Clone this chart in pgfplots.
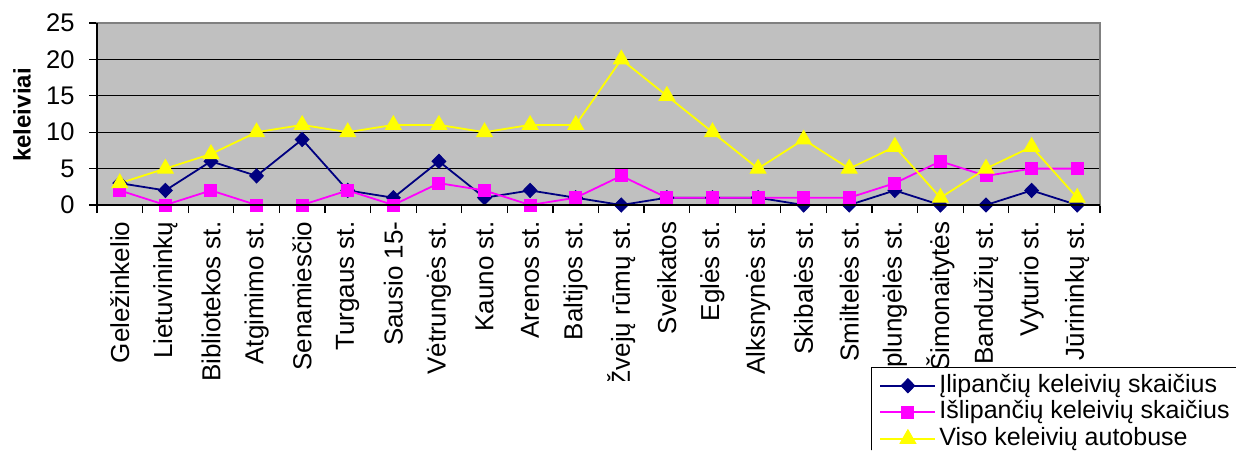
\documentclass[border=0pt]{standalone}
\usepackage{pgfplots}
\pgfplotsset{compat=1.18}
\usepackage{fontspec}
\setmainfont{Liberation Sans}
\definecolor{navyc}{RGB}{0,0,128}
\definecolor{magc}{RGB}{255,0,255}
\definecolor{yelc}{RGB}{255,255,0}
\definecolor{bgc}{RGB}{192,192,192}
\definecolor{borderc}{RGB}{128,128,128}
\begin{document}
\begin{tikzpicture}
\useasboundingbox (0,0) rectangle (1236pt,450pt);
\clip (0,70pt) -- (871pt,70pt) -- (871pt,0pt) -- (1236pt,0pt) -- (1236pt,450pt) -- (0pt,450pt) -- cycle;
\begin{axis}[
  at={(97pt,245pt)}, anchor=south west,
  scale only axis, width=1003pt, height=182pt,
  xmin=-0.5, xmax=21.5, ymin=0, ymax=25,
  ytick={0,5,10,15,20,25},
  xtick={-0.5,0.5,1.5,2.5,3.5,4.5,5.5,6.5,7.5,8.5,9.5,10.5,11.5,12.5,13.5,14.5,15.5,16.5,17.5,18.5,19.5,20.5,21.5},
  x tick label as interval,
  xticklabels={Geležinkelio, Lietuvininkų, Bibliotekos st., Atgimimo st., Senamiesčio, Turgaus st., Sausio 15-, Vėtrungės st., Kauno st., Arenos st., Baltijos st., Žvejų rūmų st., Sveikatos, Eglės st., Alksnynės st., Skibalės st., Smiltelės st., plungėlės st., Šimonaitytės, Bandužių st., Vyturio st., Jūrininkų st., x},
  xtick pos=bottom, ytick pos=left,
  tick align=outside, major tick length=8pt,
  tick style={black, line width=1.2pt},
  axis background/.style={fill=bgc},
  ymajorgrids, major grid style={black, line width=1.3pt},
  axis line style={draw=borderc, line width=1.2pt},
  /pgf/number format/assume math mode=true,
  y tick label style={font=\fontsize{25.5}{25.5}\selectfont, xshift=-11pt},
  x tick label style={font=\fontsize{26}{26}\selectfont, yshift=-5pt, rotate=90, anchor=east},
  ylabel={keleiviai},
  ylabel style={font=\fontsize{24}{24}\selectfont\bfseries, at={(axis description cs:-0.0748,0.4945)}, anchor=center},
  xlabel={stotelės},
  xlabel style={font=\fontsize{24}{24}\selectfont\bfseries, at={(axis description cs:0.4746,-1.143)}, anchor=center},
  clip=false,
  legend cell align=left,
  legend style={at={(0.7717,-0.8901)}, anchor=north west, draw=black, line width=1pt, fill=white,
    font=\fontsize{25}{25}\selectfont, inner xsep=8pt, inner ysep=5pt, row sep=0pt, column sep=2pt,
    nodes={inner sep=1pt, text height=18.5pt, text depth=6pt}},
  legend image code/.code={\draw[mark repeat=2,mark phase=2,#1] plot coordinates {(0pt,0pt) (27.5pt,0pt) (55pt,0pt)};},
  after end axis/.code={\draw[black, line width=1.5pt] (rel axis cs:0,1) -- (rel axis cs:0,0) -- (rel axis cs:1,0);},
]
\addplot[color=navyc, line width=1.8pt, mark=diamond*, mark size=7pt, mark options={solid, fill=navyc, draw=navyc, xscale=1.3, line width=1pt}]
  coordinates {(0,3) (1,2) (2,6) (3,4) (4,9) (5,2) (6,1) (7,6) (8,1) (9,2) (10,1) (11,0) (12,1) (13,1) (14,1) (15,0) (16,0) (17,2) (18,0) (19,0) (20,2) (21,0)};
\addlegendentry{Įlipančių keleivių skaičius}
\addplot[color=magc, line width=1.8pt, mark=square*, mark size=6pt, mark options={solid, fill=magc, draw=magc, line width=1pt}]
  coordinates {(0,2) (1,0) (2,2) (3,0) (4,0) (5,2) (6,0) (7,3) (8,2) (9,0) (10,1) (11,4) (12,1) (13,1) (14,1) (15,1) (16,1) (17,3) (18,6) (19,4) (20,5) (21,5)};
\addlegendentry{Išlipančių keleivių skaičius}
\addplot[color=yelc, line width=1.8pt, mark=triangle*, mark size=9pt, mark options={solid, fill=yelc, draw=yelc, line width=1pt}]
  coordinates {(0,3) (1,5) (2,7) (3,10) (4,11) (5,10) (6,11) (7,11) (8,10) (9,11) (10,11) (11,20) (12,15) (13,10) (14,5) (15,9) (16,5) (17,8) (18,1) (19,5) (20,8) (21,1)};
\addlegendentry{Viso keleivių autobuse}
\end{axis}
\end{tikzpicture}
\end{document}
